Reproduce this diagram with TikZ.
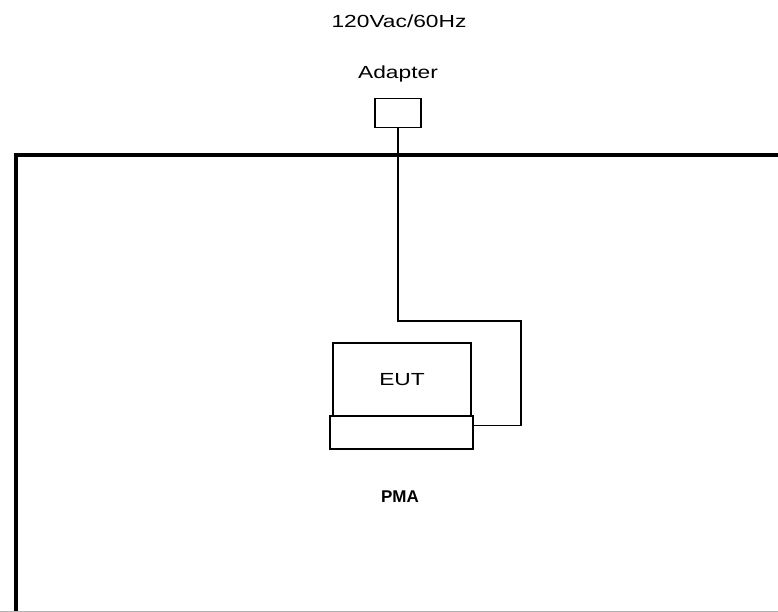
\documentclass[tikz,border=0pt]{standalone}
\usepackage{fontspec}
\setmainfont{Liberation Sans}
\newfontfamily\widefont[FakeStretch=1.3]{Liberation Sans}
\usetikzlibrary{calc}

\tikzset{
  box/.style={draw, line width=1.3pt, inner sep=0pt},
  wire/.style={line width=1.3pt},
  label/.style={font=\widefont\fontsize{17.5}{20}\selectfont}
}

\begin{document}
\begin{tikzpicture}[x=1pt, y=-1pt]
\useasboundingbox (0,0) rectangle (778,612);
% table
\draw[line width=4pt] (15.5,612) -- (15.5,155.5) -- (778,155.5);
\draw[gray!60, line width=1pt] (0,611.5) -- (778,611.5);
% supply
\node[label] (mains) at (399,21) {120Vac/60Hz};
\node[label] (adlabel) at (398,74) {Adapter};
\node[box, minimum width=46pt, minimum height=29pt] (adapter) at (398,113) {};
% equipment under test
\node[box, minimum width=138pt, minimum height=73pt, label] (eut) at (402,379.5) {EUT};
\node[box, minimum width=143pt, minimum height=33pt] (base) at (401.5,432.5) {};
\node[font=\bfseries\fontsize{17}{20}\selectfont] (pma) at (400,497) {PMA};
% cable
\coordinate (turn) at (521,321);
\coordinate (plug) at ($(base.north east)!0.3!(base.south east)$);
\draw[wire] (adapter.south) |- (turn) |- (plug);
\end{tikzpicture}
\end{document}
